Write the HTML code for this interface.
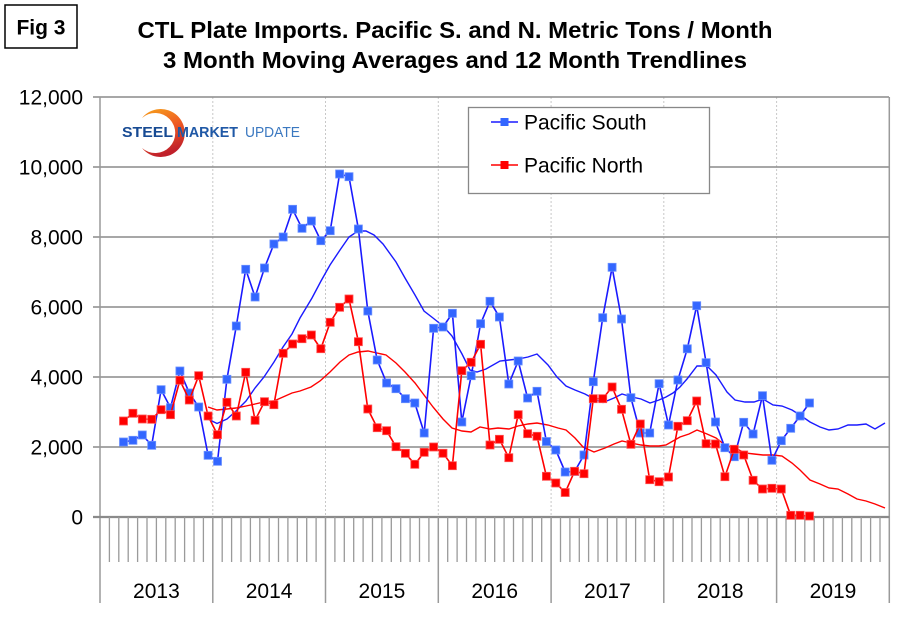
<!DOCTYPE html>
<html><head><meta charset="utf-8"><style>
html,body{margin:0;padding:0;background:#fff;}
svg{display:block;font-family:"Liberation Sans",Arial,sans-serif;}
</style></head><body>
<svg width="910" height="622" viewBox="0 0 910 622" xmlns="http://www.w3.org/2000/svg">
<defs>
<marker id="mb" markerWidth="10" markerHeight="10" refX="5" refY="5" markerUnits="userSpaceOnUse"><rect x="1" y="1" width="8" height="8" fill="#3366ff" stroke="#6a90ff" stroke-width="0.8"/></marker>
<marker id="mr" markerWidth="10" markerHeight="10" refX="5" refY="5" markerUnits="userSpaceOnUse"><rect x="1" y="1" width="8" height="8" fill="#ff0000" stroke="#ff5050" stroke-width="0.8"/></marker>
<linearGradient id="lg" x1="0" y1="0" x2="0.3" y2="1"><stop offset="0" stop-color="#f7a21b"/><stop offset="0.5" stop-color="#ee5a24"/><stop offset="1" stop-color="#c0202a"/></linearGradient>
</defs>
<rect width="910" height="622" fill="#fff"/>
<!-- Fig 3 box -->
<rect x="5" y="5" width="72" height="43" fill="#fff" stroke="#000" stroke-width="1.5"/>
<text x="41" y="34.5" font-size="21" font-weight="bold" text-anchor="middle">Fig 3</text>
<!-- Title -->
<text x="455" y="38" font-size="23" font-weight="bold" text-anchor="middle" textLength="635" lengthAdjust="spacingAndGlyphs">CTL Plate Imports. Pacific S. and N. Metric Tons / Month</text>
<text x="455" y="68" font-size="23" font-weight="bold" text-anchor="middle" textLength="584" lengthAdjust="spacingAndGlyphs">3 Month Moving Averages and 12 Month Trendlines</text>
<!-- dotted vertical year grid -->
<g stroke="#c8c8c8" stroke-width="1" stroke-dasharray="2,2">
<path d="M212.8 97V517M325.5 97V517M438.3 97V517M551.1 97V517M663.8 97V517M776.6 97V517"/>
</g>
<!-- horizontal grid -->
<g stroke="#8a8a8a" stroke-width="1.4">
<path d="M93 97H889M93 167H889M93 237H889M93 307H889M93 377H889M93 447H889"/>
</g>
<!-- axes -->
<path d="M100 97V603M889.3 97V603" stroke="#9a9a9a" stroke-width="1.5" fill="none"/>
<path d="M93 517H889.3" stroke="#8a8a8a" stroke-width="2.2"/>
<path d="M212.8 517V603M325.5 517V603M438.3 517V603M551.1 517V603M663.8 517V603M776.6 517V603" stroke="#9a9a9a" stroke-width="1.5"/>
<path stroke="#9a9a9a" stroke-width="1.3" d="M109.4 517V562M118.8 517V562M128.2 517V562M137.6 517V562M147 517V562M156.4 517V562M165.8 517V562M175.2 517V562M184.6 517V562M194 517V562M203.4 517V562M222.2 517V562M231.6 517V562M241 517V562M250.4 517V562M259.8 517V562M269.2 517V562M278.5 517V562M287.9 517V562M297.3 517V562M306.7 517V562M316.1 517V562M334.9 517V562M344.3 517V562M353.7 517V562M363.1 517V562M372.5 517V562M381.9 517V562M391.3 517V562M400.7 517V562M410.1 517V562M419.5 517V562M428.9 517V562M447.7 517V562M457.1 517V562M466.5 517V562M475.9 517V562M485.3 517V562M494.7 517V562M504.1 517V562M513.5 517V562M522.9 517V562M532.3 517V562M541.7 517V562M560.5 517V562M569.9 517V562M579.3 517V562M588.6 517V562M598 517V562M607.4 517V562M616.8 517V562M626.2 517V562M635.6 517V562M645 517V562M654.4 517V562M673.2 517V562M682.6 517V562M692 517V562M701.4 517V562M710.8 517V562M720.2 517V562M729.6 517V562M739 517V562M748.4 517V562M757.8 517V562M767.2 517V562M786 517V562M795.4 517V562M804.8 517V562M814.2 517V562M823.6 517V562M833 517V562M842.4 517V562M851.8 517V562M861.2 517V562M870.6 517V562M880 517V562"/>
<!-- Y labels -->
<g font-size="21" text-anchor="end" fill="#000">
<text x="83" y="104.5">12,000</text>
<text x="83" y="174.5">10,000</text>
<text x="83" y="244.5">8,000</text>
<text x="83" y="314.5">6,000</text>
<text x="83" y="384.5">4,000</text>
<text x="83" y="454.5">2,000</text>
<text x="83" y="524.5">0</text>
</g>
<!-- Year labels -->
<g font-size="21" text-anchor="middle" fill="#000">
<text x="156.4" y="598">2013</text>
<text x="269.1" y="598">2014</text>
<text x="381.9" y="598">2015</text>
<text x="494.7" y="598">2016</text>
<text x="607.4" y="598">2017</text>
<text x="720.2" y="598">2018</text>
<text x="833" y="598">2019</text>
</g>
<!-- Logo -->
<path d="M142 118 A24 24 0 1 1 142 148 A20 20 0 1 0 142 118 Z" fill="url(#lg)"/>
<g font-size="14.5" fill="#1d4f9a">
<text x="122" y="137" font-weight="bold" textLength="51" lengthAdjust="spacingAndGlyphs" fill="#174a93">STEEL</text>
<text x="177" y="137" textLength="61" lengthAdjust="spacingAndGlyphs" fill="#1f58a6" font-weight="bold">MARKET</text>
<text x="245" y="137" textLength="55" lengthAdjust="spacingAndGlyphs" fill="#3b78c0">UPDATE</text>
</g>
<!-- Trend lines -->
<polyline fill="none" stroke="#1a1aff" stroke-width="1.4" points="208,419 217,423.5 227,419 236,411 246,401 255,388 264,377 274,362 283,347 292,334 300,318 312,298 321,281 330,265 340,250 349,237 358,231 366,231 374,235 383,244 396,262 405,278 415,295 424,311 433,318 443,326 452,336 462,354 470,370 477,372 486,369 500,361 518,359 528,357 537,354 548,365 557,377 566,386 575,390 585,394 596,400 603,402.5 614,398 622,394 632,397 641,399 650,403 659,400 666,397 673,393 680,387 687,379 697,366 707,366 716,375 727,392 735,400 745,402 754,402 763,399 773,405 782,406 792,410 800,415 810,422 820,427 829,430 838,429 848,425 857,425 866,424 875,429 885,423"/>
<polyline fill="none" stroke="#ff0000" stroke-width="1.4" points="208,407 217,410 227,409 236,408 246,406 255,404 264,402 274,401 283,397 292,393 300,391 311,387 320,381 330,372 340,362 349,355 358,352 368,351 377,353 386,355 396,363 405,372 415,383 424,395 433,407 443,419 452,428 462,431 471,432 480,427 490,429 498,428 509,429 518,426 528,424 537,423 548,425 558,428 566,430 575,438 583,447 594,452 605,448 614,444 622,441 631,443 641,445 650,446 659,446 666,445 673,441 680,437 689,434 697,430 707,434 716,438 725,445 735,448 745,453 754,454 763,455 773,455 782,456 792,463 800,470 810,480 820,484 829,488 838,489 848,494 857,499 866,501 875,504 885,508"/>
<!-- Data series -->
<polyline fill="none" stroke="#1a1aff" stroke-width="1.6" marker-start="url(#mb)" marker-mid="url(#mb)" marker-end="url(#mb)" points="123.5,442 132.9,440.3 142.3,435 151.7,445.3 161.1,389.7 170.5,407.7 179.9,371 189.3,393 198.7,407 208.1,455.3 217.5,461.3 226.9,379.3 236.3,326 245.7,269.3 255.1,297 264.5,268 273.9,244 283.2,237 292.6,209.3 302,228.3 311.4,221 320.8,240.7 330.2,230.7 339.6,174 349,176.7 358.4,229 367.8,311 377.2,360 386.6,383 396,388.7 405.4,398.7 414.8,403 424.2,433 433.6,328.3 443,327 452.4,313.3 461.8,422 471.2,375.7 480.6,323.7 490,301.3 499.4,317 508.8,384 518.2,361 527.6,398 537,391.3 546.4,441.5 555.8,450 565.2,472 574.6,471.5 584,455 593.3,381.7 602.7,317.7 612.1,267.3 621.5,319 630.9,397.7 640.3,433 649.7,433 659.1,383.7 668.5,425 677.9,380 687.3,348.8 696.7,305.7 706.1,362.7 715.5,422 724.9,447.7 734.3,456.7 743.7,422.3 753.1,434 762.5,395.7 771.9,460.3 781.3,440.7 790.7,428.3 800.1,416 809.5,403"/>
<polyline fill="none" stroke="#ff0000" stroke-width="1.6" marker-start="url(#mr)" marker-mid="url(#mr)" marker-end="url(#mr)" points="123.5,421 132.9,413.3 142.3,419 151.7,419.3 161.1,409.7 170.5,414.7 179.9,380.3 189.3,400 198.7,375.7 208.1,416 217.5,434.7 226.9,402.3 236.3,416 245.7,372.3 255.1,420.3 264.5,401.7 273.9,404.7 283.2,353.3 292.6,344 302,338.7 311.4,335 320.8,348.7 330.2,322.3 339.6,307.3 349,299 358.4,341.7 367.8,409 377.2,427.7 386.6,430.7 396,446.7 405.4,453.3 414.8,464.3 424.2,452.3 433.6,447 443,453.3 452.4,465.7 461.8,370.7 471.2,362.3 480.6,344.3 490,445 499.4,439.3 508.8,457.7 518.2,414.7 527.6,433.7 537,436.3 546.4,476.3 555.8,483 565.2,492.5 574.6,471.3 584,473.7 593.3,398.7 602.7,398.7 612.1,387 621.5,409.3 630.9,444.3 640.3,424 649.7,479.7 659.1,481.7 668.5,477 677.9,426.3 687.3,420.7 696.7,401 706.1,443.7 715.5,444 724.9,476.7 734.3,449.3 743.7,455 753.1,480.3 762.5,489 771.9,488.3 781.3,489 790.7,515.3 800.1,515.3 809.5,516"/>
<!-- Legend -->
<rect x="468.5" y="107.5" width="241" height="86" fill="#fff" stroke="#888" stroke-width="1.3"/>
<line x1="491" y1="122" x2="518" y2="122" stroke="#1a1aff" stroke-width="1.6"/>
<rect x="500.5" y="118" width="8" height="8" fill="#3366ff"/>
<line x1="491" y1="165" x2="518" y2="165" stroke="#ff0000" stroke-width="1.6"/>
<rect x="500.5" y="161" width="8" height="8" fill="#ff0000"/>
<g font-size="21" fill="#000">
<text x="524" y="129.5">Pacific South</text>
<text x="524" y="172.5">Pacific North</text>
</g>
</svg>
</body></html>
